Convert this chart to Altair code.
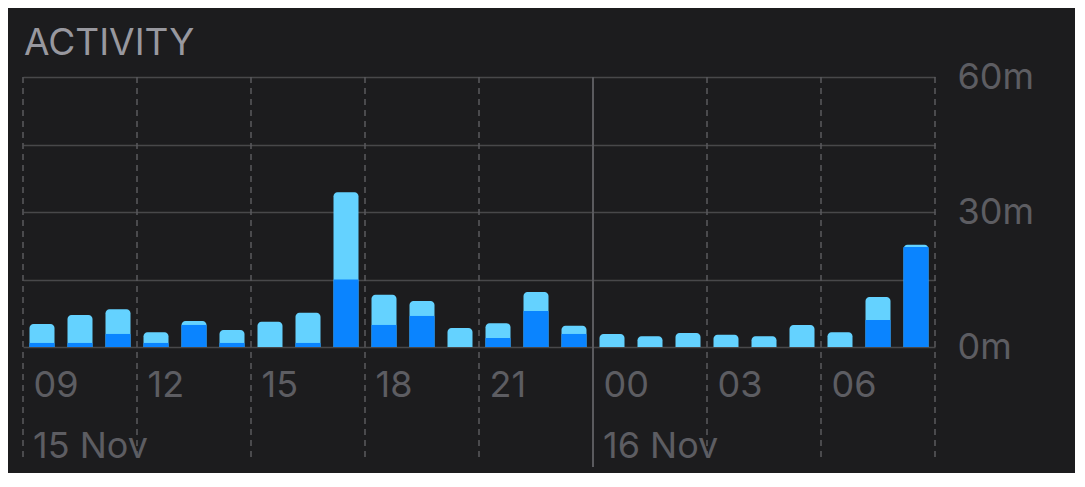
import altair as alt
import pandas as pd

# Hour slots, 15 Nov 09:00 .. 16 Nov 08:00
hours = ["09", "10", "11", "12", "13", "14", "15", "16", "17", "18", "19", "20",
         "21", "22", "23", "00", "01", "02", "03", "04", "05", "06", "07", "08"]
# total activity minutes per hour (light + dark)
total_min = [5.1, 7.1, 8.4, 3.3, 5.8, 3.8, 5.6, 7.6, 34.4, 11.6, 10.2, 4.2,
             5.3, 12.2, 4.7, 2.9, 2.4, 3.1, 2.7, 2.4, 4.9, 3.3, 11.1, 22.7]
# dark-blue part of each bar (minutes)
dark_min = [0.9, 0.9, 2.9, 0.9, 4.9, 0.9, 0.0, 0.9, 15.0, 4.9, 6.9, 0.0,
            2.0, 8.0, 2.9, 0.0, 0.0, 0.0, 0.0, 0.0, 0.0, 0.0, 6.0, 22.2]

tick_hours = ["09", "12", "15", "18", "21", "00", "03", "06", "09"]
date_labels = [("09", "15 Nov"), ("00", "16 Nov")]
y_ticks = [0, 15, 30, 45, 60]
title_text = ["ACTIVITY"]

BG = "#1c1c1e"
LABEL = "#5d5d62"
FONT = "Inter"
FS = 36

bars = pd.DataFrame({
    "hour": hours,
    "pos": [i + 0.5 for i in range(len(hours))],
    "total": total_min,
    "dark": dark_min,
})

tick_df = pd.DataFrame({
    "label": tick_hours,
    "pos": [hours.index(h) if i < len(tick_hours) - 1 else len(hours)
            for i, h in enumerate(tick_hours)],
})
tick_df["midnight"] = tick_df["label"] == "00"

date_df = pd.DataFrame({
    "pos": [hours.index(h) for h, _ in date_labels],
    "text": [t for _, t in date_labels],
})

label_map = "{" + ",".join(f"{i}:'{h}'" for i, h in enumerate(hours)) + "}"

x_scale = alt.Scale(domain=[0, len(hours)], nice=False, zero=False, padding=0)
y_scale = alt.Scale(domain=[0, 60], nice=False, padding=0)

x_axis = alt.Axis(
    values=[int(p) for p in tick_df["pos"] if p < len(hours)],
    labelExpr=f"{label_map}[datum.value]",
    labelAlign="left", labelOffset=10, labelBaseline="middle", labelPadding=38,
    labelFontSize=FS, labelColor=LABEL, labelFont=FONT,
    ticks=False, domain=False, grid=False, title=None,
)

y_axis = alt.Axis(
    orient="right", values=y_ticks,
    labelExpr="datum.value % 30 == 0 ? datum.value + 'm' : ''",
    labelFontSize=FS, labelColor=LABEL, labelFont=FONT, labelPadding=22,
    labelBaseline="middle",
    ticks=False, domain=False, grid=True, gridColor="#48484a", gridWidth=1.5,
    title=None,
)

base = alt.Chart(bars)

grid_layer = base.mark_bar(opacity=0).encode(
    x=alt.X("pos:Q", scale=x_scale, axis=x_axis),
    y=alt.Y("total:Q", scale=y_scale, axis=y_axis),
)

vlines = alt.Chart(tick_df[~tick_df["midnight"]]).mark_rule(
    color="#5a5a5e", strokeWidth=1.5, strokeDash=[6, 5]
).encode(
    x=alt.X("pos:Q", scale=x_scale),
    y=alt.value(0), y2=alt.value(383),
)

midline = alt.Chart(tick_df[tick_df["midnight"]]).mark_rule(
    color="#5a5a5e", strokeWidth=2
).encode(
    x=alt.X("pos:Q", scale=x_scale),
    y=alt.value(0), y2=alt.value(390),
)

light = base.mark_bar(width=25, color="#64d2ff",
                      cornerRadiusTopLeft=4, cornerRadiusTopRight=4).encode(
    x=alt.X("pos:Q", scale=x_scale),
    y=alt.Y("total:Q", scale=y_scale),
    y2=alt.datum(0),
)

dark = alt.Chart(bars[bars["dark"] > 0]).mark_bar(width=25, color="#0a84ff").encode(
    x=alt.X("pos:Q", scale=x_scale),
    y=alt.Y("dark:Q", scale=y_scale),
    y2=alt.datum(0),
)

dates = alt.Chart(date_df).mark_text(
    align="left", baseline="middle", dx=10, fontSize=FS, color=LABEL, font=FONT
).encode(
    x=alt.X("pos:Q", scale=x_scale),
    y=alt.value(370),
    text="text:N",
)

title = alt.Chart(pd.DataFrame({"text": title_text})).mark_text(
    align="left", baseline="alphabetic", fontSize=37, color="#98989f", font=FONT
).encode(
    x=alt.value(1), y=alt.value(-22), text="text:N",
)

chart = alt.layer(grid_layer, vlines, midline, light, dark, dates, title).properties(
    width=912, height=270,
    padding={"left": 15, "top": 69, "right": 140, "bottom": 126},
    autosize=alt.AutoSizeParams(type="none"),
    background=BG,
).configure_view(stroke=None)

chart.save("out.html", embed_options={"renderer": "svg", "actions": False})
